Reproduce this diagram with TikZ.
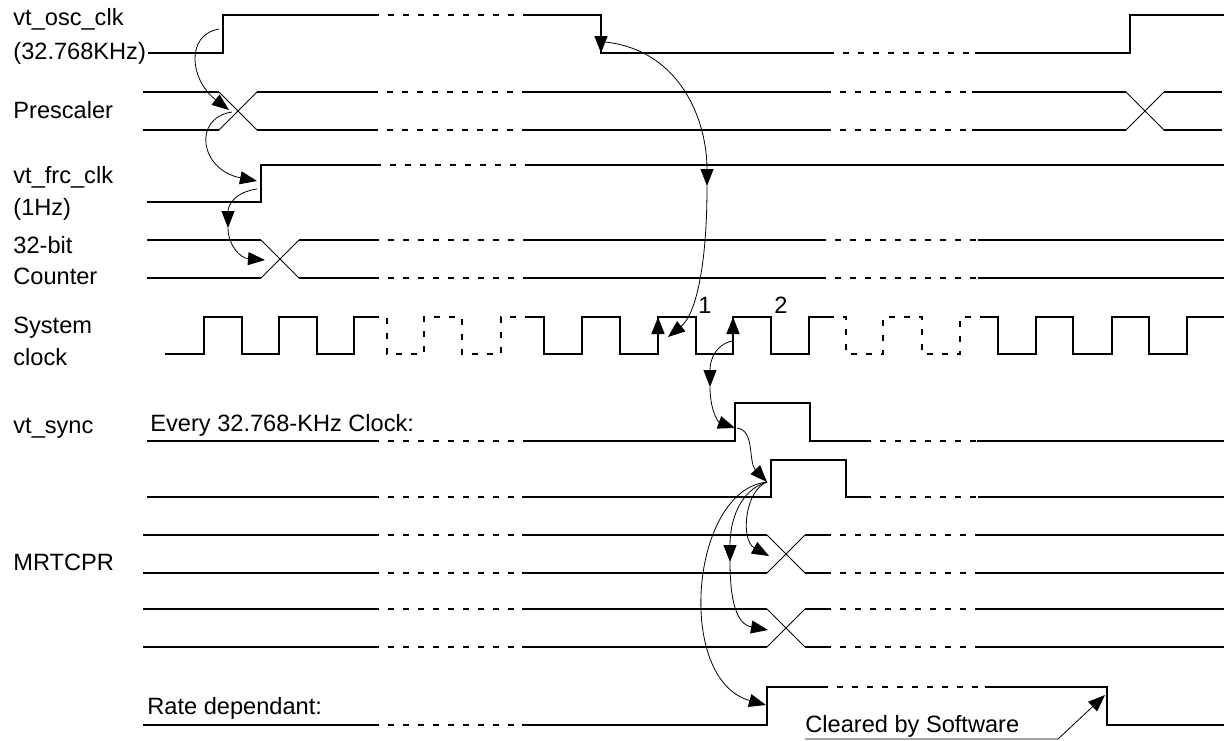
\documentclass[tikz,border=0pt]{standalone}
\usepackage{fontspec}
\setmainfont{Liberation Sans}
\usetikzlibrary{arrows.meta}
\tikzset{fig/.style={x=0.5pt,y=-0.5pt,line join=miter,>={Triangle[length=8.5pt,width=6.5pt]}},
  sig/.style={line width=0.8pt},
  dsig/.style={sig,dash pattern=on 3pt off 4.5pt},
  xing/.style={line width=0.4pt},
  cause/.style={line width=0.4pt,->},
  lbl/.style={inner sep=0pt,anchor=base west,font=\fontsize{11.8}{14}\selectfont}}
% bus: {upper y}{lower y}{solid a/b}{dashed a/b}{crossings}
\newcommand{\figBus}[5]{\foreach \a/\b in {#3}{\draw[sig](\a,#1)--(\b,#1)(\a,#2)--(\b,#2);}
  \foreach \a/\b in {#4}{\draw[dsig](\a,#1)--(\b,#1)(\a,#2)--(\b,#2);}
  \foreach \a in {#5}{\draw[xing](\a,#1)--(\a+38,#2)(\a,#2)--(\a+38,#1);}}

\begin{document}
\begin{tikzpicture}[fig]
  \useasboundingbox (0,0) rectangle (1224,740);
  % signal names
  \node[lbl](osc) at (13,25){vt\_osc\_clk};
  \node[lbl](oscHz) at (13,59){(32.768KHz)};
  \node[lbl](pre) at (13,118){Prescaler};
  \node[lbl](frc) at (13,183){vt\_frc\_clk};
  \node[lbl](frcHz) at (13,215){(1Hz)};
  \node[lbl](cntBit) at (13,253){32-bit};
  \node[lbl](cnt) at (13,284){Counter};
  \node[lbl](sys) at (13,333){System};
  \node[lbl](sysClk) at (13,365){clock};
  \node[lbl](sync) at (13,433){vt\_sync};
  \node[lbl](every) at (150,431){Every 32.768-KHz Clock:};
  \node[lbl](mrtcpr) at (13,570){MRTCPR};
  \node[lbl](rate) at (147,714){Rate dependant:};
  \node[lbl](clear) at (805,732){Cleared by Software};
  \node[lbl,anchor=center](n1) at (705,305){1};
  \node[lbl,anchor=center](n2) at (781,305){2};
  % vt_osc_clk
  \draw[sig](148,53)-|(223,15)--(373,15);\draw[dsig](373,15)--(525,15);
  \draw[sig](525,15)-|(601,53)--(828,53);\draw[sig,->](601,22)--(601,53);
  \draw[dsig](828,53)--(975,53);\draw[sig](975,53)-|(1130,15)--(1224,15);
  % prescaler, counter, MRTCPR
  \figBus{92}{130}{143/219,257/372,522/825,972/1126,1164/1222}{372/522,825/972}{219,1126}
  \figBus{240}{278}{147/261,299/373,525/820,978/1224}{373/525,820/978}{261}
  \figBus{535}{573}{143/373,522/767,805/825,975/1224}{373/522,825/975}{767}
  \figBus{609}{647}{143/373,522/767,805/825,975/1224}{373/522,825/975}{767}
  % vt_frc_clk
  \draw[sig](147,202)-|(261,165)--(375,165);\draw[dsig](375,165)--(525,165);
  \draw[sig](525,165)--(1224,165);
  % system clock
  \draw[sig](165,354)-|(204,317)-|(242,354)-|(279,317)-|(317,354)-|(354,317)--(373,317);
  \draw[dsig](373,317)-|(387,354)-|(424,317)-|(462,354)-|(501,317)--(527,317);
  \draw[sig](527,317)-|(544,354)-|(582,317)-|(620,354)-|(658,317)-|(696,354)-|(733,317)-|(771,354)-|(809,317)--(828,317);
  \draw[dsig](828,317)-|(846,354)-|(883,317)-|(922,354)-|(960,317)--(980,317);
  \draw[sig](980,317)-|(998,354)-|(1036,317)-|(1073,354)-|(1112,317)-|(1149,354)-|(1187,317)--(1224,317);
  \draw[sig,->](658,345)--(658,317);\draw[sig,->](733,345)--(733,317);
  % vt_sync and its delayed copy
  \draw[sig](147,441)--(373,441);\draw[dsig](373,441)--(525,441);
  \draw[sig](525,441)-|(735,403)-|(810,441)--(865,441);
  \draw[dsig](865,441)--(977,441);\draw[sig](977,441)--(1224,441);
  \draw[sig](147,497)--(373,497);\draw[dsig](373,497)--(522,497);
  \draw[sig](522,497)-|(771,460)-|(846,497)--(865,497);
  \draw[dsig](865,497)--(978,497);\draw[sig](978,497)--(1224,497);
  % rate dependant
  \draw[sig](143,725)--(373,725);\draw[dsig](373,725)--(522,725);
  \draw[sig](522,725)-|(767,687)--(822,687);\draw[dsig](822,687)--(985,687);
  \draw[sig](985,687)-|(1107,725)--(1224,725);
  % cause arrows
  \coordinate(oscRise) at (219,29);\coordinate(preIn) at (229,110);
  \coordinate(preOut) at (232,112);\coordinate(frcIn) at (257,181);
  \coordinate(frcOut) at (257,189);\coordinate(cMid) at (228,228);\coordinate(cntIn) at (265,260);
  \coordinate(oscFall) at (605,42);\coordinate(dMid) at (707,186);\coordinate(clkA) at (668,337);
  \coordinate(clkB) at (732,341);\coordinate(eMid) at (710,387);\coordinate(syncIn) at (735,428);
  \coordinate(syncOut) at (737,428);\coordinate(dlyIn) at (767,482);
  \coordinate(mA) at (769,556);\coordinate(gMid) at (730,562);\coordinate(mB) at (768,630);
  \coordinate(rateIn) at (766,705);
  \coordinate(clrL) at (805,739);\coordinate(clrR) at (1058,739);\coordinate(rateOut) at (1105,695);
  \draw[cause](oscRise)..controls(185,35)and(190,80)..(preIn);
  \draw[cause](preOut)..controls(192,118)and(200,170)..(frcIn);
  \draw[cause](frcOut)..controls(235,192)and(228,205)..(cMid);
  \draw[cause](cMid)..controls(228,245)and(240,258)..(cntIn);
  \draw[cause](oscFall)..controls(680,50)and(707,120)..(dMid);
  \draw[cause](dMid)..controls(707,270)and(695,315)..(clkA);
  \draw[cause](clkB)..controls(715,345)and(710,360)..(eMid);
  \draw[cause](eMid)..controls(710,410)and(718,422)..(syncIn);
  \draw[cause](syncOut)..controls(755,430)and(748,462)..(dlyIn);
  \draw[cause](dlyIn)..controls(745,490)and(740,540)..(mA);
  \draw[cause](dlyIn)..controls(740,490)and(730,520)..(gMid);
  \draw[cause](gMid)..controls(730,610)and(740,625)..(mB);
  \draw[cause](dlyIn)..controls(690,490)and(675,680)..(rateIn);
  \draw[cause](clrL)--(clrR)--(rateOut);
\end{tikzpicture}
\end{document}
